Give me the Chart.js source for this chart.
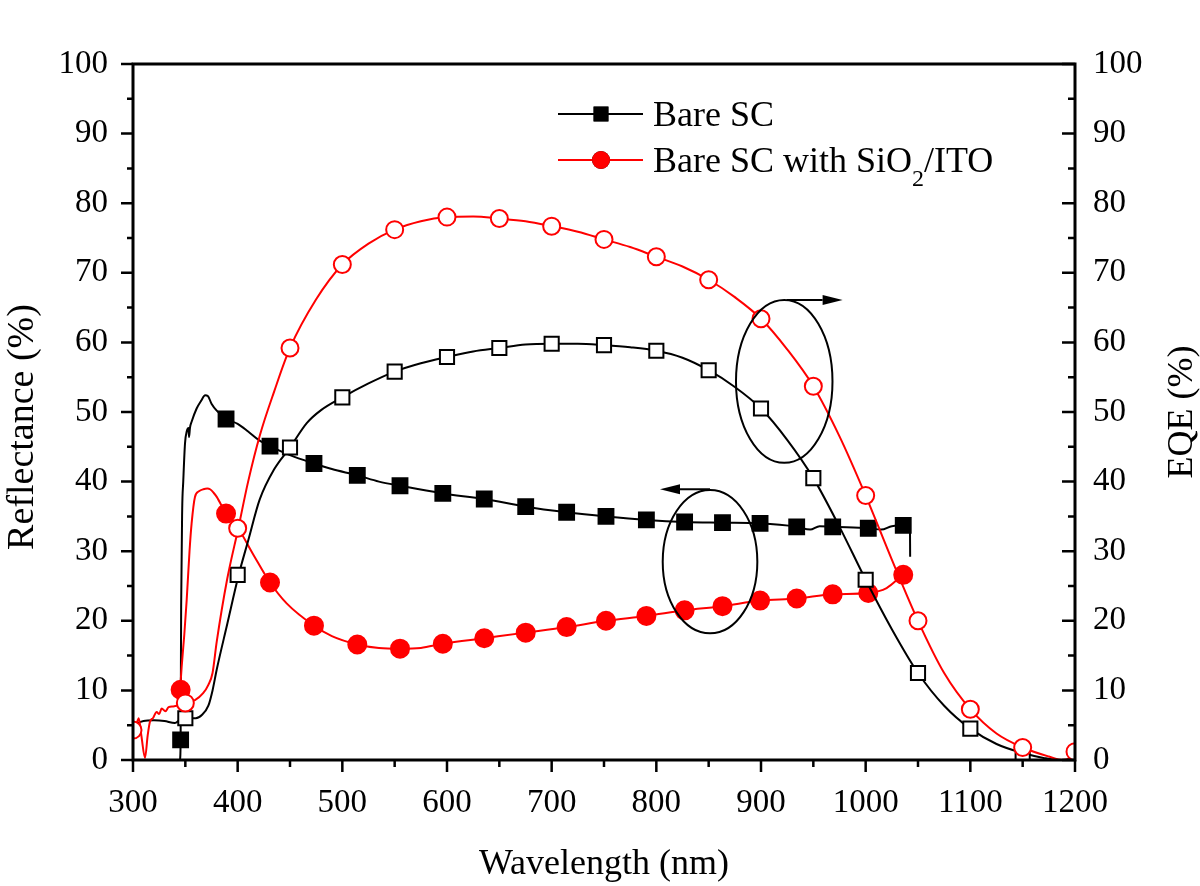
<!DOCTYPE html>
<html><head><meta charset="utf-8">
<script src="https://cdn.jsdelivr.net/npm/chart.js@4.4.0/dist/chart.umd.min.js"></script>
<style>html,body{margin:0;padding:0;background:#fff;}canvas{display:block;}</style>
</head><body>
<canvas id="c" width="1200" height="886"></canvas>
<script>
// ---------- data ----------
// Reflectance, bare SC (black line, filled squares)
const reflBareX = [345.0,345.5,346.0,347.0,348.0,349.7,351.5,353.0,353.5,354.5,356.0,360.8,365.0,369.0,371.5,375.0,380.0,388.9,400.0,410.0,420.0,430.9,450.0,472.9,490.0,514.3,535.0,555.1,596.0,635.6,675.2,714.3,751.9,790.5,827.0,863.2,899.1,934.1,947.0,956.0,968.5,1002.5,1015.0,1025.0,1035.9,1042.3,1042.5];
const reflBareY = [0.0,2.9,22.0,36.0,40.0,45.5,47.3,47.7,46.4,47.8,48.6,50.5,51.6,52.4,52.3,51.2,50.2,49.0,48.3,47.2,46.0,45.1,43.8,42.6,41.8,40.9,40.0,39.4,38.3,37.5,36.4,35.6,35.0,34.5,34.2,34.1,34.0,33.5,33.1,33.6,33.5,33.3,33.1,33.6,33.7,33.8,29.2];
// Reflectance, bare SC with SiO2/ITO (red line, filled circles)
const reflItoX = [345.0,346.5,349.0,351.3,354.0,356.0,359.2,363.0,367.2,371.0,373.6,377.0,380.0,388.9,400.0,415.0,430.9,446.8,472.9,490.0,514.3,535.0,555.1,575.0,596.0,635.6,675.2,714.3,751.9,790.5,827.0,863.2,899.1,934.1,968.5,1002.5,1020.0,1035.3];
const reflItoY = [10.1,13.4,18.0,23.0,30.0,34.0,37.8,38.6,38.9,39.0,38.9,38.4,37.8,35.4,33.4,29.5,25.5,22.5,19.3,17.8,16.6,16.1,16.0,16.1,16.7,17.5,18.3,19.1,20.0,20.7,21.5,22.1,22.9,23.2,23.8,24.0,24.7,26.6];
// marker positions on the reflectance curves
const reflMarkX = [345.5,388.9,430.9,472.9,514.3,555.1,596.0,635.6,675.2,714.3,751.9,790.5,827.0,863.2,899.1,934.1,968.5,1002.5,1035.9];
const reflBareMarkY = [2.9,49.0,45.1,42.6,40.9,39.4,38.3,37.5,36.4,35.6,35.0,34.5,34.2,34.1,34.0,33.5,33.5,33.3,33.7];
const reflItoMarkY = [10.1,35.4,25.5,19.3,16.6,16.0,16.7,17.5,18.3,19.1,20.0,20.7,21.5,22.1,22.9,23.2,23.8,24.0,26.6];
// EQE, bare SC (black line, open squares)
const eqeBareX = [300,310,320,330,340,345,350,360,366,372,376,380,390,401,410,421,435,450,466,480,500,525,550,575,600,625,650,675,700,725,750,775,800,825,850,875,900,925,950,975,1000,1025,1050,1075,1100,1125,1150,1170,1185,1200];
const eqeBareY = [5.0,5.6,5.7,5.6,5.3,5.8,6.0,6.0,6.5,7.8,10.0,13.0,19.5,26.6,31.5,37.4,41.8,44.9,48.4,50.3,52.1,54.1,55.8,57.0,57.9,58.7,59.2,59.7,59.8,59.8,59.6,59.3,58.8,57.8,56.0,53.6,50.5,46.0,40.5,33.5,25.9,18.8,12.5,7.8,4.5,2.3,1.0,0.3,0.0,0.0];
const eqeBareMarkX = [350,400,450,500,550,600,650,700,750,800,850,900,950,1000,1050,1100,1150];
const eqeBareMarkY = [6.0,26.6,44.9,52.1,55.8,57.9,59.2,59.8,59.6,58.8,56.0,50.5,40.5,25.9,12.5,4.5,1.0];
// EQE, bare SC with SiO2/ITO (red line, open circles)
const eqeItoX = [300,303,305.5,308,311.5,314,316.2,319,322.6,325,327.4,331,334,338.5,344,350,359.2,367,372,376,380,390,400.6,410,421.3,435,450,475,500,525,550,575,600,625,650,675,700,725,750,775,800,825,850,875,900,925,950,975,1000,1025,1050,1075,1100,1125,1150,1175,1188,1195,1200];
const eqeItoY = [4.3,5.0,6.0,3.5,0.3,3.5,5.5,6.0,6.9,6.6,7.4,7.0,7.6,7.7,7.9,8.2,8.6,9.6,10.8,12.5,17.0,26.0,33.3,40.0,46.7,53.0,59.2,66.2,71.2,74.2,76.2,77.4,78.0,78.1,77.8,77.4,76.7,75.9,74.8,73.7,72.3,70.9,69.0,66.5,63.4,59.0,53.7,46.5,38.0,28.8,20.0,12.5,7.3,3.8,1.8,0.5,0.0,0.3,1.2];
const eqeItoMarkX = [300,350,400,450,500,550,600,650,700,750,800,850,900,950,1000,1050,1100,1150,1200];
const eqeItoMarkY = [4.3,8.2,33.3,59.2,71.2,76.2,78.0,77.8,76.7,74.8,72.3,69.0,63.4,53.7,38.0,20.0,7.3,1.8,1.2];

const xTicks = [300,400,500,600,700,800,900,1000,1100,1200];
const yTicks = [0,10,20,30,40,50,60,70,80,90,100];
const seriesNames = ['Bare SC', 'Bare SC with SiO', '2', '/ITO'];
const axisTitles = {x: 'Wavelength (nm)', yLeft: 'Reflectance (%)', yRight: 'EQE (%)'};

// annotations (data units): ellipses around curves, arrows to the axes
const ellipses = [
  {cx: 922.2, cy: 54.4, rx: 46.1, ry: 11.7},
  {cx: 851.3, cy: 28.5, rx: 45.2, ry: 10.3}
];
const arrows = [
  {x1: 924.5, x2: 978.0, y: 66.1},
  {x1: 851.3, x2: 803.5, y: 38.9}
];

// ---------- styling ----------
const FONT = '"Liberation Serif","Times New Roman",Times,serif';
const RED = '#ff0000';
const BLACK = '#000000';
const pts = (xs, ys) => xs.map((x, i) => ({x: x, y: ys[i]}));

function lineDS(xs, ys, color, axis, order) {
  return {data: pts(xs, ys), yAxisID: axis, borderColor: color, borderWidth: 2,
    pointRadius: 0, cubicInterpolationMode: 'monotone', fill: false, order: order};
}
function markDS(xs, ys, color, axis, style, radius, filled, order) {
  return {data: pts(xs, ys), yAxisID: axis, showLine: false, pointStyle: style,
    pointRadius: radius, pointBorderWidth: 2, pointBorderColor: color,
    pointBackgroundColor: filled ? color : '#ffffff', borderColor: color, backgroundColor: filled ? color : '#ffffff', order: order};
}

const decor = {
  id: 'decor',
  afterDatasetsDraw(chart) {
    const {ctx, chartArea: a, scales} = chart;
    const sx = scales.x, sy = scales.y, sy2 = scales.y2;
    ctx.save();
    ctx.strokeStyle = BLACK; ctx.fillStyle = BLACK;
    // frame
    ctx.lineWidth = 3;
    ctx.strokeRect(a.left, a.top, a.right - a.left, a.bottom - a.top);
    // ticks
    ctx.lineWidth = 2.5;
    ctx.beginPath();
    for (let v = 300; v <= 1200; v += 50) {
      const p = sx.getPixelForValue(v);
      const len = v % 100 === 0 ? 12 : 7;
      ctx.moveTo(p, a.bottom); ctx.lineTo(p, a.bottom + len);
    }
    for (let v = 0; v <= 100; v += 5) {
      const p = sy.getPixelForValue(v);
      const len = v % 10 === 0 ? 12 : 6;
      ctx.moveTo(a.left, p); ctx.lineTo(a.left - len, p);
      const p2 = sy2.getPixelForValue(v);
      const len2 = v % 10 === 0 ? 13 : 7;
      ctx.moveTo(a.right, p2); ctx.lineTo(a.right - len2, p2);
    }
    ctx.stroke();
    // ellipses
    ctx.lineWidth = 2;
    ellipses.forEach(e => {
      const cx = sx.getPixelForValue(e.cx), cy = sy.getPixelForValue(e.cy);
      const rx = Math.abs(sx.getPixelForValue(e.cx + e.rx) - cx);
      const ry = Math.abs(sy.getPixelForValue(e.cy + e.ry) - cy);
      ctx.beginPath(); ctx.ellipse(cx, cy, rx, ry, 0, 0, Math.PI * 2); ctx.stroke();
    });
    // arrows
    arrows.forEach(ar => {
      const x1 = sx.getPixelForValue(ar.x1), x2 = sx.getPixelForValue(ar.x2), y = sy.getPixelForValue(ar.y);
      const dir = Math.sign(x2 - x1), head = 20, hw = 5;
      ctx.beginPath(); ctx.moveTo(x1, y); ctx.lineTo(x2 - dir * head, y); ctx.stroke();
      ctx.beginPath(); ctx.moveTo(x2, y); ctx.lineTo(x2 - dir * head, y - hw); ctx.lineTo(x2 - dir * head, y + hw); ctx.closePath(); ctx.fill();
    });
    // legend
    const lx0 = 558, lx1 = 643, lmx = 601, tx = 653;
    const rows = [{y: 114, color: BLACK, style: 'rect', r: 10.5}, {y: 160, color: RED, style: 'circle', r: 9}];
    rows.forEach(r => {
      ctx.strokeStyle = r.color; ctx.lineWidth = 2;
      ctx.beginPath(); ctx.moveTo(lx0, r.y); ctx.lineTo(lx1, r.y); ctx.stroke();
      Chart.helpers.drawPoint(ctx, {pointStyle: r.style, radius: r.r, borderWidth: 0}, lmx, r.y);
      ctx.fillStyle = r.color; ctx.fill();
    });
    ctx.fillStyle = BLACK; ctx.textAlign = 'left'; ctx.textBaseline = 'alphabetic';
    ctx.font = '36px ' + FONT;
    ctx.fillText(seriesNames[0], tx, 126);
    let x = tx;
    ctx.fillText(seriesNames[1], x, 172); x += ctx.measureText(seriesNames[1]).width;
    ctx.font = '24px ' + FONT;
    ctx.fillText(seriesNames[2], x, 186); x += ctx.measureText(seriesNames[2]).width;
    ctx.font = '36px ' + FONT;
    ctx.fillText(seriesNames[3], x, 172);
    // axis titles
    ctx.textAlign = 'center';
    ctx.fillText(axisTitles.x, (a.left + a.right) / 2, 874);
    ctx.save(); ctx.font = '38px ' + FONT; ctx.translate(33, 427); ctx.rotate(-Math.PI / 2);
    ctx.fillText(axisTitles.yLeft, 0, 0); ctx.restore();
    ctx.save(); ctx.translate(1192, (a.top + a.bottom) / 2); ctx.rotate(-Math.PI / 2);
    ctx.fillText(axisTitles.yRight, 0, 0); ctx.restore();
    ctx.restore();
  }
};

const tickFont = {family: FONT, size: 33};
const plain = v => String(v);
new Chart(document.getElementById('c'), {
  type: 'line',
  data: {datasets: [
    lineDS(reflBareX, reflBareY, BLACK, 'y', 8),
    markDS(reflMarkX, reflBareMarkY, BLACK, 'y', 'rect', 10.5, true, 7),
    lineDS(reflItoX, reflItoY, RED, 'y', 6),
    markDS(reflMarkX, reflItoMarkY, RED, 'y', 'circle', 9, true, 5),
    lineDS(eqeBareX, eqeBareY, BLACK, 'y2', 4),
    markDS(eqeBareMarkX, eqeBareMarkY, BLACK, 'y2', 'rect', 10, false, 3),
    lineDS(eqeItoX, eqeItoY, RED, 'y2', 2),
    markDS(eqeItoMarkX, eqeItoMarkY, RED, 'y2', 'circle', 8.5, false, 1)
  ]},
  options: {
    responsive: false, animation: false, devicePixelRatio: 1,
    layout: {padding: {top: 64, left: 0, right: 0, bottom: 0}},
    plugins: {legend: {display: false}, tooltip: {enabled: false}},
    scales: {
      x: {type: 'linear', position: 'bottom', min: 300, max: 1200,
        afterFit: s => { s.height = 126; },
        afterBuildTicks: s => { s.ticks = xTicks.map(v => ({value: v})); },
        grid: {display: false, drawTicks: false}, border: {display: false},
        ticks: {font: tickFont, color: BLACK, padding: 24, maxRotation: 0, autoSkip: false, callback: plain}},
      y: {type: 'linear', position: 'left', min: 0, max: 100,
        afterFit: s => { s.width = 133; },
        afterBuildTicks: s => { s.ticks = yTicks.map(v => ({value: v})); },
        grid: {display: false, drawTicks: false}, border: {display: false},
        ticks: {font: tickFont, color: BLACK, padding: 25, callback: plain}},
      y2: {type: 'linear', position: 'right', min: 0, max: 100,
        afterFit: s => { s.width = 125; },
        afterBuildTicks: s => { s.ticks = yTicks.map(v => ({value: v})); },
        grid: {display: false, drawTicks: false}, border: {display: false},
        ticks: {font: tickFont, color: BLACK, padding: 18, callback: plain}}
    }
  },
  plugins: [decor]
});
</script>
</body></html>
